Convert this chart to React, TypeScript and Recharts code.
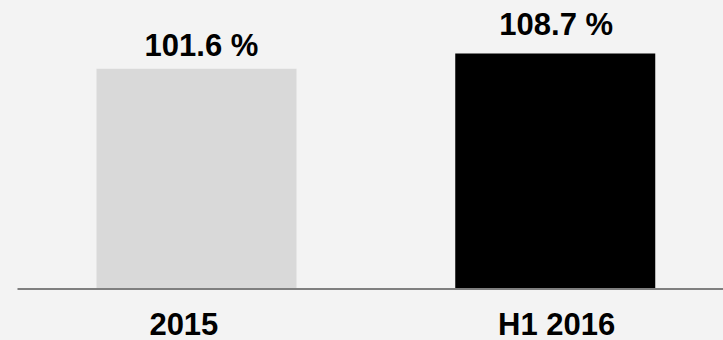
import React from "react";
import { BarChart, Bar, XAxis, YAxis, Cell, LabelList } from "recharts";

// Periods and their values (in %)
const categories = ["2015", "H1 2016"];
const values = [101.6, 108.7];
const valueLabels = ["101.6 %", "108.7 %"];

// Presentation
const barColors = ["#d9d9d9", "#000000"];
const labelGaps = [13, 18];
const tickShifts = [-13, 1];
const FONT = '"Liberation Sans", Arial, Helvetica, sans-serif';

const data = categories.map((name, i) => ({ name, value: values[i], label: valueLabels[i] }));

const CategoryTick = (props: any) => {
  const { x, y, payload, index } = props;
  return (
    <text
      x={x + (tickShifts[index] ?? 0)}
      y={y}
      dy={46}
      textAnchor="middle"
      fontFamily={FONT}
      fontWeight="bold"
      fontSize={31}
      fill="#000"
    >
      {payload.value}
    </text>
  );
};

const ValueLabel = (props: any) => {
  const { x, y, width, index } = props;
  return (
    <text
      x={x + width / 2 + (index === 0 ? 5 : 1)}
      y={y - (labelGaps[index] ?? 14)}
      textAnchor="middle"
      fontFamily={FONT}
      fontWeight="bold"
      fontSize={31}
      fill="#000"
    >
      {data[index].label}
    </text>
  );
};

export default function App() {
  return (
    <div
      style={{
        position: "fixed",
        left: 0,
        top: 0,
        width: 723,
        height: 340,
        overflow: "hidden",
        background: "#f3f3f3",
      }}
    >
      <BarChart
        width={740}
        height={340}
        data={data}
        margin={{ top: 29, right: 5, bottom: 0, left: 17.5 }}
      >
        <XAxis
          dataKey="name"
          height={51}
          tickSize={0}
          tickMargin={0}
          tickLine={false}
          axisLine={{ stroke: "#7f7f7f", strokeWidth: 2 }}
          tick={<CategoryTick />}
          interval={0}
        />
        <YAxis hide domain={[0, 120]} />
        <Bar dataKey="value" barSize={200} isAnimationActive={false}>
          {data.map((d, i) => (
            <Cell key={d.name} fill={barColors[i]} />
          ))}
          <LabelList dataKey="label" content={<ValueLabel />} />
        </Bar>
      </BarChart>
    </div>
  );
}
